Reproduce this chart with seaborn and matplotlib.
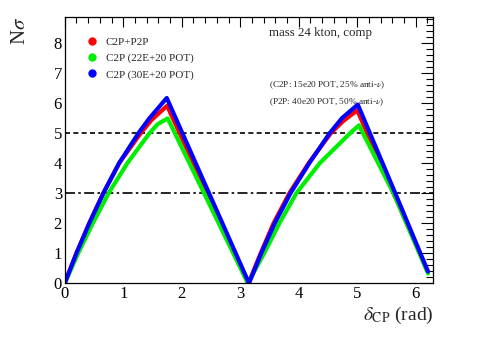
import matplotlib
matplotlib.use("Agg")
import matplotlib.pyplot as plt
from matplotlib.lines import Line2D
from matplotlib.ticker import MultipleLocator
import pandas as pd
import seaborn as sns

# values (delta_CP in rad, N sigma)
red_x = [0, 0.20, 0.42, 0.66, 0.93, 1.30, 1.49, 1.75, 3.14, 3.35, 3.57, 3.84, 4.17, 4.55, 4.76, 5.00, 6.21]
red_y = [0, 1, 2, 3, 4, 5, 5.45, 5.91, 0, 1, 2, 3, 4, 5, 5.4, 5.76, 0.38]
green_x = [0, 0.23, 0.48, 0.75, 1.07, 1.45, 1.59, 1.76, 3.13, 3.41, 3.67, 3.96, 4.36, 4.88, 5.03, 5.62, 6.21]
green_y = [0, 1, 2, 3, 4, 5, 5.3, 5.49, 0, 1, 2, 3, 4, 5, 5.26, 3, 0.33]
blue_x = [0, 0.20, 0.42, 0.66, 0.93, 1.26, 1.45, 1.744, 3.15, 3.36, 3.59, 3.86, 4.18, 4.53, 4.74, 5.01, 5.65, 6.21]
blue_y = [0, 1, 2, 3, 4, 5, 5.5, 6.17, 0, 1, 2, 3, 4, 5, 5.5, 5.95, 3, 0.39]

labels = ["C2P+P2P", "C2P (22E+20 POT)", "C2P (30E+20 POT)"]
colors = ["#ff0000", "#00ee00", "#0000ff"]
ref_levels = [5, 3]

frames = []
for lab, xs, ys in zip(labels, [red_x, green_x, blue_x], [red_y, green_y, blue_y]):
    frames.append(pd.DataFrame({"dcp": xs, "nsig": ys, "series": lab}))
df = pd.concat(frames, ignore_index=True)

sns.set_style("white")
plt.rcParams["font.family"] = ["Liberation Serif", "DejaVu Serif"]
plt.rcParams["mathtext.fontset"] = "stix"

fig = plt.figure(figsize=(4.98, 3.38), dpi=100)
ax = fig.add_axes([0.13, 0.162, 0.74, 0.788])

ax.axhline(ref_levels[0], color="black", lw=1.2, ls=(0, (3, 2)))
ax.axhline(ref_levels[1], color="black", lw=1.2, ls=(0, (6, 2, 1.5, 2)))

sns.lineplot(data=df, x="dcp", y="nsig", hue="series", palette=dict(zip(labels, colors)),
             sort=False, estimator=None, lw=3.0, legend=False, ax=ax)

ax.set_xlim(0, 6.3)
ax.set_ylim(0, 8.87)
ax.xaxis.set_major_locator(MultipleLocator(1))
ax.xaxis.set_minor_locator(MultipleLocator(0.2))
ax.yaxis.set_major_locator(MultipleLocator(1))
ax.yaxis.set_minor_locator(MultipleLocator(0.2))
ax.tick_params(which="both", direction="in", top=True, right=True, colors="black",
               labelsize=12, pad=2)
ax.tick_params(axis="y", which="major", length=9, width=0.8)
ax.tick_params(axis="y", which="minor", length=5, width=0.8)
ax.tick_params(axis="x", which="major", length=7, width=0.8)
ax.tick_params(axis="x", which="minor", length=4, width=0.8)
for sp in ax.spines.values():
    sp.set_color("black")
    sp.set_linewidth(0.9)

ax.set_xlabel(r"$\delta_{\rm CP}$ (rad)", fontsize=14, loc="right", labelpad=2)
ax.set_ylabel(r"N$\sigma$", fontsize=15, loc="top", labelpad=17)

handles = [Line2D([], [], ls="none", marker="o", ms=5, color=c) for c in colors]
ax.legend(handles, labels, loc="upper left", bbox_to_anchor=(0.03, 0.96), frameon=False,
          fontsize=8, handletextpad=0.6, labelspacing=0.55, handlelength=1.2)

ax.text(0.555, 0.94, "mass 24 kton, comp", transform=ax.transAxes, fontsize=9.3, va="center")
ax.text(0.555, 0.745, "(C2P: 15e20 POT, 25% anti-$\\nu$)", transform=ax.transAxes, fontsize=6.7, va="center")
ax.text(0.555, 0.68, "(P2P: 40e20 POT, 50% anti-$\\nu$)", transform=ax.transAxes, fontsize=6.7, va="center")

fig.savefig("out.png", dpi=100)
